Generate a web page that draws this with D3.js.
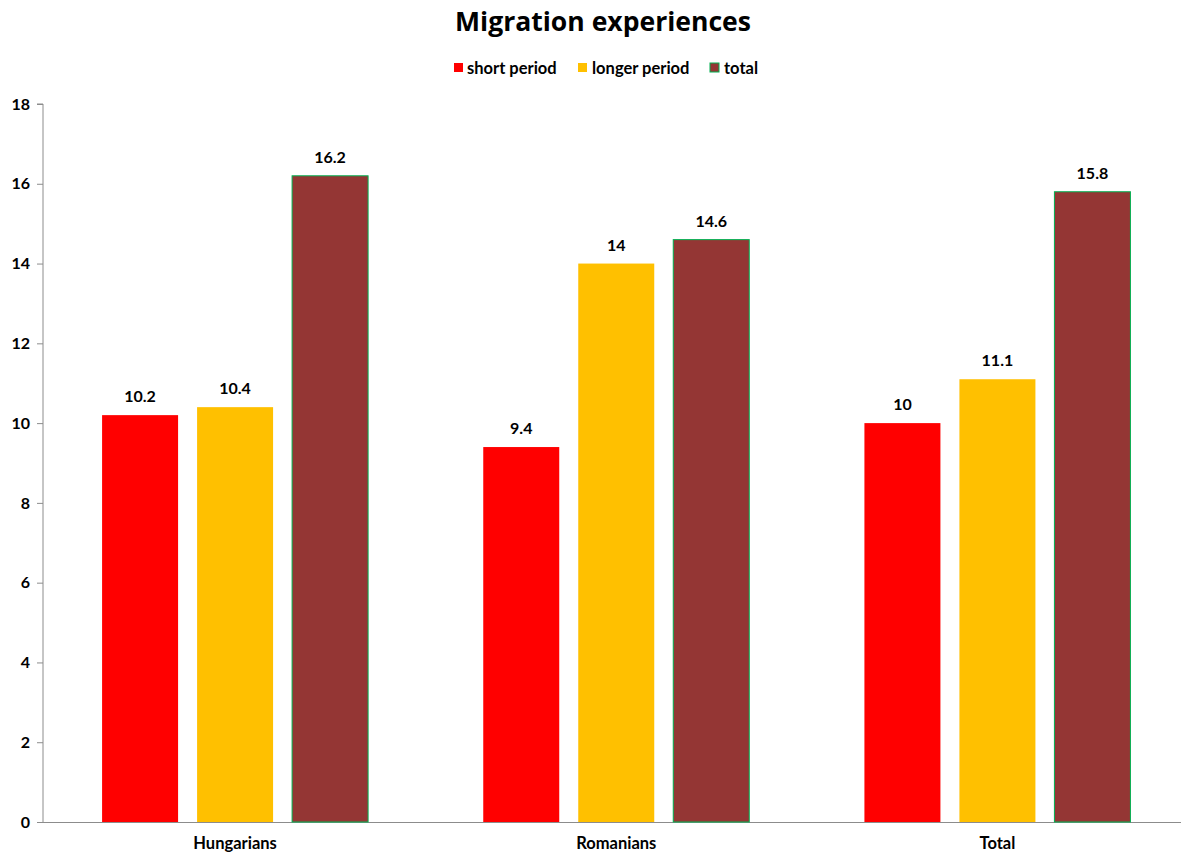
<!DOCTYPE html>
<html><head><meta charset="utf-8">
<script src="https://cdn.jsdelivr.net/npm/d3@7"></script>
<style>body{margin:0;background:#fff}svg{display:block}text{font-family:Lato,"Open Sans",sans-serif;font-weight:bold;fill:#000}</style>
</head><body>
<svg id="c" width="1181" height="854"></svg>
<script>
const categories = ["Hungarians", "Romanians", "Total"];
const seriesNames = ["short period", "longer period", "total"];
const shortPeriod = [10.2, 9.4, 10];
const longerPeriod = [10.4, 14, 11.1];
const totalVals = [16.2, 14.6, 15.8];
const yTicks = [0, 2, 4, 6, 8, 10, 12, 14, 16, 18];
const colors = ["#FF0000", "#FFC000", "#943634"];
const strokes = ["none", "none", "#00B050"];

const series = [shortPeriod, longerPeriod, totalVals];
const svg = d3.select("#c");
const mLeft = 43, mRight = 1188, mTop = 104, mBottom = 822;
const bandLeft = 44.5;

const x0 = d3.scaleBand().domain(categories).range([bandLeft, mRight]).paddingInner(0).paddingOuter(0);
const x1 = d3.scaleBand().domain(seriesNames).range([0, 266]).paddingInner(0.2).paddingOuter(0);
const y = d3.scaleLinear().domain([0, 18]).range([mBottom, mTop]);

svg.append("text").attr("x", 603).attr("y", 31).attr("text-anchor", "middle")
  .style("font-size", "27px").style("font-family", "'Open Sans',Lato,sans-serif").attr("textLength", 296).attr("lengthAdjust","spacingAndGlyphs").text("Migration experiences");

// legend
const legendItems = [{x: 454, tx: 467}, {x: 578, tx: 592}, {x: 710, tx: 724}];
seriesNames.forEach((s, i) => {
  svg.append("rect").attr("x", legendItems[i].x).attr("y", 63).attr("width", 9).attr("height", 9)
    .attr("fill", colors[i]).attr("stroke", i === 2 ? "#00B050" : "none").attr("stroke-width", 1);
  svg.append("text").attr("x", legendItems[i].tx).attr("y", 73.5).style("font-size", "16.5px").text(s);
});

// y axis
const yAxis = d3.axisLeft(y).tickValues(yTicks).tickSize(6).tickPadding(7);
const ga = svg.append("g").attr("transform", `translate(${mLeft},0)`).call(yAxis);
ga.select(".domain").attr("stroke", "#8c8c8c").attr("d", `M-6,${mTop}H0V${mBottom}`);
ga.selectAll(".tick line").attr("stroke", "#8c8c8c");
ga.selectAll(".tick text").style("font-size", "16px").attr("fill", "#000");

// x axis
const xAxis = d3.axisBottom(x0).tickSize(0).tickPadding(15);
const gx = svg.append("g").attr("transform", `translate(0,${mBottom})`).call(xAxis);
gx.select(".domain").attr("stroke", "#8c8c8c").attr("d", `M${mLeft},0.5H${mRight}`);
gx.selectAll(".tick text").style("font-size", "16.5px").attr("fill", "#000");

// bars
categories.forEach((c, ci) => {
  const gx0 = x0(c) + (x0.bandwidth() - 266) / 2;
  seriesNames.forEach((s, si) => {
    const v = series[si][ci];
    const bx = gx0 + x1(s);
    svg.append("rect").attr("x", bx).attr("y", y(v)).attr("width", x1.bandwidth())
      .attr("height", mBottom - y(v)).attr("fill", colors[si])
      .attr("stroke", strokes[si]).attr("stroke-width", 1);
    svg.append("text").attr("x", bx + x1.bandwidth() / 2).attr("y", y(v) - 13)
      .attr("text-anchor", "middle").style("font-size", "16px").text(v);
  });
});
</script>
</body></html>
